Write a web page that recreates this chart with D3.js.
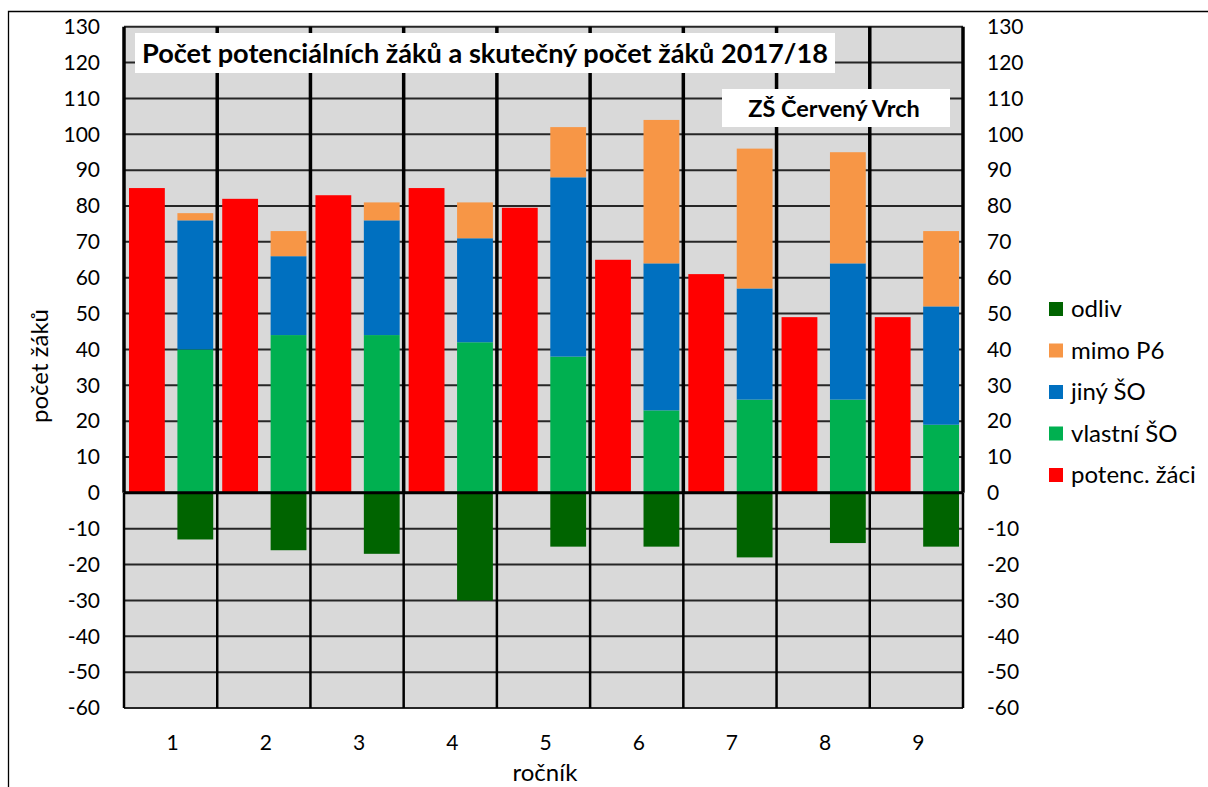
<!DOCTYPE html>
<html><head><meta charset="utf-8">
<script src="https://cdn.jsdelivr.net/npm/d3@7"></script>
<style>
html,body{margin:0;padding:0;background:#fff;}
svg{display:block;font-family:Lato,"Open Sans",sans-serif;}
</style></head>
<body>
<svg id="chart" width="1208" height="787"></svg>
<script>
// ---- data ----
const categories = ["1","2","3","4","5","6","7","8","9"];
const potencZaci = [85, 82, 83, 85, 79.5, 65, 61, 49, 49];
const vlastniSO  = [40, 44, 44, 42, 38, 23, 26, 26, 19];
const jinySO     = [36, 22, 32, 29, 50, 41, 31, 38, 33];
const mimoP6     = [2, 7, 5, 10, 14, 40, 39, 31, 21];
const odliv      = [-13, -16, -17, -30, -15, -15, -18, -14, -15];
const yTicks     = [130,120,110,100,90,80,70,60,50,40,30,20,10,0,-10,-20,-30,-40,-50,-60];
const chartTitle = "Počet potenciálních žáků a skutečný počet žáků 2017/18";
const schoolName = "ZŠ Červený Vrch";
const xTitle = "ročník";
const yTitle = "počet žáků";
const legendItems = [
  {name:"odliv", color:"#006400"},
  {name:"mimo P6", color:"#F79646"},
  {name:"jiný ŠO", color:"#0070C0"},
  {name:"vlastní ŠO", color:"#00B050"},
  {name:"potenc. žáci", color:"#FF0000"}
];
const colorOf = Object.fromEntries(legendItems.map(d=>[d.name,d.color]));

// ---- layout ----
const svg = d3.select("#chart");
const L = 124, R = 963, T = 26.7, B = 708;
const fmt = d => String(d);

// outer frame
svg.append("path").attr("d", `M8.5,800 V11.5 H1210`).attr("fill","none").attr("stroke","#000").attr("stroke-width",1.3);

const x = d3.scaleBand().domain(categories).range([L, R]).padding(0);
const bw = x.bandwidth();
const x1 = d3.scaleBand().domain(["potenc","stack"]).range([5, bw-4]).paddingInner(0.26);
const y = d3.scaleLinear().domain([-60,130]).range([B, T]);

// plot background
svg.append("rect").attr("x",L).attr("y",T).attr("width",R-L).attr("height",B-T).attr("fill","#D9D9D9");

// horizontal gridlines
svg.append("g").selectAll("line").data(yTicks).join("line")
  .attr("x1",L).attr("x2",R).attr("y1",d=>y(d)).attr("y2",d=>y(d))
  .attr("stroke","#262626").attr("stroke-width",2);

// bars: potenc. žáci
const g = svg.append("g");
g.selectAll("rect.pot").data(categories).join("rect").attr("class","pot")
  .attr("x",c=>x(c)+x1("potenc")).attr("width",x1.bandwidth())
  .attr("y",(c,i)=>y(potencZaci[i])).attr("height",(c,i)=>y(0)-y(potencZaci[i]))
  .attr("fill",colorOf["potenc. žáci"]);

// stacked positive
const stackData = categories.map((c,i)=>({c, "vlastní ŠO":vlastniSO[i], "jiný ŠO":jinySO[i], "mimo P6":mimoP6[i]}));
const stack = d3.stack().keys(["vlastní ŠO","jiný ŠO","mimo P6"])(stackData);
stack.forEach(layer=>{
  g.append("g").selectAll("rect").data(layer).join("rect")
    .attr("x",d=>x(d.data.c)+x1("stack")).attr("width",x1.bandwidth())
    .attr("y",d=>y(d[1])).attr("height",d=>y(d[0])-y(d[1]))
    .attr("fill",colorOf[layer.key]);
});
// odliv negative
g.selectAll("rect.odl").data(categories).join("rect").attr("class","odl")
  .attr("x",c=>x(c)+x1("stack")).attr("width",x1.bandwidth())
  .attr("y",y(0)).attr("height",(c,i)=>y(odliv[i])-y(0))
  .attr("fill",colorOf["odliv"]);

// vertical category separators
const seps = categories.map(c=>x(c)).concat([R]);
svg.append("g").selectAll("line").data(seps).join("line")
  .attr("x1",d=>d).attr("x2",d=>d).attr("y1",T).attr("y2",y(0))
  .attr("stroke","#000").attr("stroke-width",3.5);
svg.append("g").selectAll("line").data(seps).join("line")
  .attr("x1",d=>d).attr("x2",d=>d).attr("y1",y(0)).attr("y2",B)
  .attr("stroke","#000").attr("stroke-width",2.5);
// zero line
svg.append("line").attr("x1",L).attr("x2",R).attr("y1",y(0)).attr("y2",y(0))
  .attr("stroke","#000").attr("stroke-width",3);

// axes labels
const axL = d3.axisLeft(y).tickValues(yTicks).tickFormat(fmt).tickSize(0).tickPadding(0);
const gl = svg.append("g").attr("transform","translate(100,0)").call(axL);
gl.select(".domain").remove();
gl.selectAll("text").attr("font-size",21).attr("fill","#000").attr("font-family","Lato");
const axR = d3.axisRight(y).tickValues(yTicks).tickFormat(fmt).tickSize(0).tickPadding(0);
const gr = svg.append("g").attr("transform","translate(987,0)").call(axR);
gr.select(".domain").remove();
gr.selectAll("text").attr("font-size",21).attr("fill","#000").attr("font-family","Lato");
const axB = d3.axisBottom(x).tickSize(0).tickPadding(0);
const gb = svg.append("g").attr("transform","translate(2,0)").call(axB);
gb.select(".domain").remove();
gb.selectAll("text").attr("font-size",21).attr("fill","#000").attr("font-family","Lato")
  .attr("dy",null).attr("y",750);

// axis titles
svg.append("text").attr("x",545).attr("y",781).attr("text-anchor","middle")
  .attr("font-size",24).text(xTitle);
svg.append("text").attr("transform","translate(48,366) rotate(-90)").attr("text-anchor","middle")
  .attr("font-size",24).text(yTitle);

// title box
svg.append("rect").attr("x",135).attr("y",33).attr("width",700).attr("height",40).attr("fill","#fff");
svg.append("text").attr("x",142).attr("y",63).attr("font-size",26.5).attr("font-weight","bold")
  .attr("fill","#000").attr("textLength",686).attr("lengthAdjust","spacingAndGlyphs").text(chartTitle);
svg.append("rect").attr("x",722).attr("y",89).attr("width",228).attr("height",38).attr("fill","#fff");
svg.append("text").attr("x",834).attr("y",117).attr("text-anchor","middle").attr("font-size",23.5)
  .attr("font-weight","bold").attr("fill","#000").text(schoolName);

// legend
const lg = svg.append("g").selectAll("g").data(legendItems).join("g")
  .attr("transform",(d,i)=>`translate(1049,${309 + i*41.5})`);
lg.append("rect").attr("x",0).attr("y",-7).attr("width",14).attr("height",14).attr("fill",d=>d.color);
lg.append("text").attr("x",22).attr("y",8).attr("font-size",24).attr("fill","#000").text(d=>d.name);
</script>
</body></html>
